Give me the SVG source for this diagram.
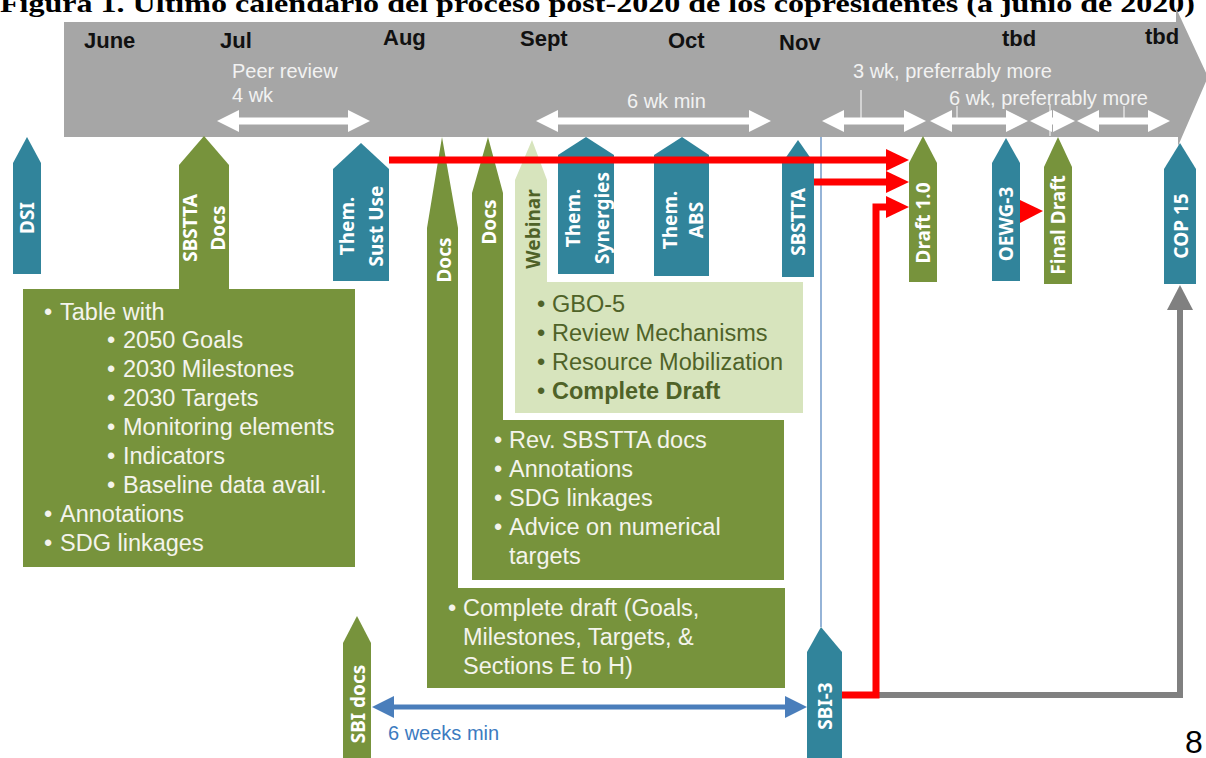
<svg xmlns="http://www.w3.org/2000/svg" width="1206" height="758" viewBox="0 0 1206 758">
<style>
.lab{font-family:"Noto Sans","Open Sans",sans-serif;font-weight:bold;font-size:19px;fill:#fff;text-anchor:middle}
.labd{fill:#4f6228}
.body{font-family:"Liberation Sans",Arial,sans-serif;font-size:23.5px;fill:#f4f4ec}
.dk{fill:#4f6228}
.month{font-family:"Liberation Sans",Arial,sans-serif;font-weight:bold;font-size:22px;fill:#111}
.ban{font-family:"Liberation Sans",Arial,sans-serif;font-size:20px;fill:#f2f2f2}
.blue{fill:#31849b}
.green{fill:#77933c}
.lgreen{fill:#d7e4bd}
.warr{stroke:#fff;stroke-width:7;fill:none}
.tick{stroke:#f2f2f2;stroke-width:1.2}
.red{stroke:#ff0000;stroke-width:7;fill:none}
</style>
<defs>
<marker id="wh" viewBox="0 0 22 22" refX="2" refY="11" markerWidth="22" markerHeight="22" markerUnits="userSpaceOnUse" orient="auto-start-reverse">
<polygon points="0,0 22,11 0,22" fill="#fff"/>
</marker>
<marker id="bh" viewBox="0 0 22 22" refX="2" refY="11" markerWidth="22" markerHeight="22" markerUnits="userSpaceOnUse" orient="auto-start-reverse">
<polygon points="0,0 22,11 0,22" fill="#4a7ebb"/>
</marker>
</defs>
<rect width="1206" height="758" fill="#fff"/>
<text x="0" y="12" font-family="Liberation Serif,serif" font-weight="bold" font-size="26" textLength="1195" lengthAdjust="spacingAndGlyphs" fill="#000">Figura 1. Último calendario del proceso post-2020 de los copresidentes (a junio de 2020)</text>

<g id="banner">
<polygon points="64,22 1176,22 1176,8 1208,77 1178,146 1178,137 64,137" fill="#a6a6a6"/>
<text class="month" x="84" y="48">June</text>
<text class="month" x="220" y="48">Jul</text>
<text class="month" x="383" y="45">Aug</text>
<text class="month" x="520" y="46">Sept</text>
<text class="month" x="668" y="48">Oct</text>
<text class="month" x="779" y="50">Nov</text>
<text class="month" x="1002" y="46">tbd</text>
<text class="month" x="1145" y="44">tbd</text>
<text class="ban" x="232" y="78">Peer review</text>
<text class="ban" x="232" y="102">4 wk</text>
<text class="ban" x="627" y="108">6 wk min</text>
<text class="ban" x="853" y="78">3 wk, preferrably more</text>
<text class="ban" x="949" y="105">6 wk, preferrably more</text>
<line class="tick" x1="861" y1="90" x2="861" y2="121"/>
<line class="tick" x1="957" y1="106" x2="957" y2="121"/>
<line class="tick" x1="1050" y1="104" x2="1050" y2="136"/>
<line class="tick" x1="1124" y1="106" x2="1124" y2="121"/>
<line class="warr" x1="237" y1="121" x2="350" y2="121" marker-start="url(#wh)" marker-end="url(#wh)"/>
<line class="warr" x1="556" y1="121" x2="751" y2="121" marker-start="url(#wh)" marker-end="url(#wh)"/>
<line class="warr" x1="842" y1="121" x2="906" y2="121" marker-start="url(#wh)" marker-end="url(#wh)"/>
<line class="warr" x1="950" y1="121" x2="1008" y2="121" marker-start="url(#wh)" marker-end="url(#wh)"/>
<line class="warr" x1="1050" y1="121" x2="1055" y2="121" marker-start="url(#wh)" marker-end="url(#wh)"/>
<line class="warr" x1="1097" y1="121" x2="1150" y2="121" marker-start="url(#wh)" marker-end="url(#wh)"/>
</g>

<g id="dsi">
<polygon class="blue" points="13,274 13,163 27,137 41,163 41,274"/>
<text class="lab" transform="translate(34,218) rotate(-90)">DSI</text>
</g>

<g id="sbstta-docs">
<polygon class="green" points="179,290 179,165 204,136 229,165 229,290"/>
<rect class="green" x="23" y="289" width="332" height="278"/>
<text class="lab" transform="translate(197,228) rotate(-90)">SBSTTA</text>
<text class="lab" transform="translate(225,228) rotate(-90)">Docs</text>
<text class="body" x="44" y="320">•</text><text class="body" x="60" y="320">Table with</text>
<text class="body" x="107" y="348">•</text><text class="body" x="123" y="348">2050 Goals</text>
<text class="body" x="107" y="377">•</text><text class="body" x="123" y="377">2030 Milestones</text>
<text class="body" x="107" y="406">•</text><text class="body" x="123" y="406">2030 Targets</text>
<text class="body" x="107" y="435">•</text><text class="body" x="123" y="435">Monitoring elements</text>
<text class="body" x="107" y="464">•</text><text class="body" x="123" y="464">Indicators</text>
<text class="body" x="107" y="493">•</text><text class="body" x="123" y="493">Baseline data avail.</text>
<text class="body" x="44" y="522">•</text><text class="body" x="60" y="522">Annotations</text>
<text class="body" x="44" y="551">•</text><text class="body" x="60" y="551">SDG linkages</text>
</g>

<g id="them-sust-use">
<polygon class="blue" points="333,281 333,169 361,143 389,169 389,281"/>
<text class="lab" transform="translate(354,226) rotate(-90)">Them.</text>
<text class="lab" transform="translate(383,226) rotate(-90)">Sust Use</text>
</g>

<g id="docs-1">
<path class="green" d="M427,688 V228 L442,137 L458,228 V588 H785 V688 Z"/>
<text class="lab" transform="translate(451,260) rotate(-90)">Docs</text>
<text class="body" x="448" y="616">•</text><text class="body" x="463" y="616">Complete draft (Goals,</text>
<text class="body" x="463" y="645">Milestones, Targets, &amp;</text>
<text class="body" x="463" y="674">Sections E to H)</text>
</g>

<g id="docs-2">
<path class="green" d="M472,580 V193 L488,137 L503,193 V420 H784 V580 Z"/>
<text class="lab" transform="translate(496,222) rotate(-90)">Docs</text>
<text class="body" x="494" y="448">•</text><text class="body" x="509" y="448">Rev. SBSTTA docs</text>
<text class="body" x="494" y="477">•</text><text class="body" x="509" y="477">Annotations</text>
<text class="body" x="494" y="506">•</text><text class="body" x="509" y="506">SDG linkages</text>
<text class="body" x="494" y="535">•</text><text class="body" x="509" y="535">Advice on numerical</text>
<text class="body" x="509" y="564">targets</text>
</g>

<g id="webinar">
<path class="lgreen" d="M515,413 V180 L532,140 L547,180 V282 H803 V413 Z"/>
<text class="lab labd" transform="translate(540,229) rotate(-90)">Webinar</text>
<text class="body dk" x="537" y="312">•</text><text class="body dk" x="552" y="312">GBO-5</text>
<text class="body dk" x="537" y="341">•</text><text class="body dk" x="552" y="341">Review Mechanisms</text>
<text class="body dk" x="537" y="370">•</text><text class="body dk" x="552" y="370">Resource Mobilization</text>
<text class="body dk" x="537" y="399">•</text><text class="body dk" x="552" y="399" font-weight="bold">Complete Draft</text>
</g>

<g id="them-synergies">
<polygon class="blue" points="558,274 558,155 586,137 614,155 614,274"/>
<text class="lab" transform="translate(580,218) rotate(-90)">Them.</text>
<text class="lab" transform="translate(609,218) rotate(-90)">Synergies</text>
</g>

<g id="them-abs">
<polygon class="blue" points="654,276 654,155 682,137 709,155 709,276"/>
<text class="lab" transform="translate(677,220) rotate(-90)">Them.</text>
<text class="lab" transform="translate(703,220) rotate(-90)">ABS</text>
</g>

<g id="sbstta">
<polygon class="blue" points="782,277 782,163 798,140 814,163 814,277"/>
<text class="lab" transform="translate(805,222) rotate(-90)">SBSTTA</text>
</g>

<g id="draft-1">
<polygon class="green" points="909,282 909,163 923,136 937,163 937,282"/>
<text class="lab" transform="translate(930,223) rotate(-90)">Draft 1.0</text>
</g>

<g id="oewg-3">
<polygon class="blue" points="992,281 992,163 1006,138 1020,163 1020,281"/>
<text class="lab" transform="translate(1013,224) rotate(-90)">OEWG-3</text>
</g>

<g id="final-draft">
<polygon class="green" points="1044,284 1044,167 1058,137 1072,167 1072,284"/>
<text class="lab" transform="translate(1065,225) rotate(-90)">Final Draft</text>
</g>

<g id="cop-15">
<polygon class="blue" points="1164,284 1164,169 1180,143 1196,169 1196,284"/>
<text class="lab" transform="translate(1188,226) rotate(-90)">COP 15</text>
</g>

<g id="sbi-docs">
<polygon class="green" points="343,760 343,643 357,616 371,643 371,760"/>
<text class="lab" transform="translate(365,704) rotate(-90)">SBI docs</text>
</g>

<g id="sbi-3">
<polygon class="blue" points="807,760 807,652 821,627 842,652 842,760"/>
<text class="lab" transform="translate(832,706) rotate(-90)">SBI-3</text>
</g>

<g id="connectors">
<line x1="821" y1="137" x2="821" y2="627" stroke="#4f81bd" stroke-width="1.2"/>
<line class="red" x1="389" y1="160" x2="888" y2="160"/>
<polygon points="886,149 909,160 886,171" fill="#ff0000"/>
<line class="red" x1="814" y1="182" x2="888" y2="182"/>
<polygon points="886,171 909,182 886,193" fill="#ff0000"/>
<polyline points="876,695 1180,695 1180,308" fill="none" stroke="#808080" stroke-width="6"/>
<polygon points="1167,310 1180,285 1193,310" fill="#808080"/>
<polyline class="red" points="842,695 876,695 876,207 888,207"/>
<polygon points="886,196 909,207 886,218" fill="#ff0000"/>
<polygon points="1020,200 1043,211 1020,223" fill="#ff0000"/>
<line x1="392" y1="707" x2="787" y2="707" stroke="#4a7ebb" stroke-width="5" marker-start="url(#bh)" marker-end="url(#bh)"/>
<text x="388" y="740" font-family="Liberation Sans,Arial,sans-serif" font-size="20" fill="#3c7bbf">6 weeks min</text>
</g>

<text x="1185" y="753" font-family="Liberation Sans,Arial,sans-serif" font-size="32" fill="#000">8</text>
</svg>
